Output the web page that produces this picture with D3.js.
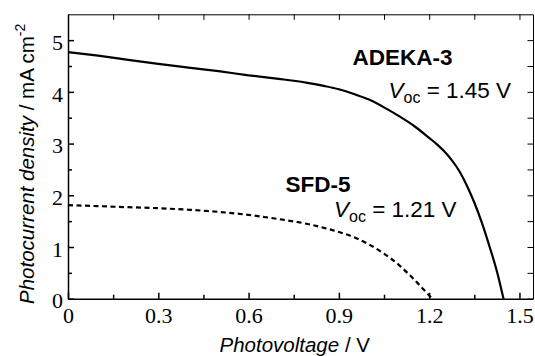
<!DOCTYPE html>
<html><head><meta charset="utf-8">
<script src="https://cdn.jsdelivr.net/npm/d3@7"></script>
<style>body{margin:0;background:#fff}svg{display:block}</style>
</head><body>
<svg id="c" width="535" height="356"></svg>
<script>
// Data
const adekaV = [0, 0.1, 0.2, 0.3, 0.4, 0.5, 0.6, 0.7, 0.75, 0.8, 0.85, 0.9, 0.95, 1.0, 1.05, 1.1, 1.15, 1.2, 1.225, 1.25, 1.275, 1.3, 1.325, 1.35, 1.375, 1.4, 1.425, 1.447];
const adekaJ = [4.77, 4.70, 4.62, 4.54, 4.47, 4.40, 4.32, 4.25, 4.215, 4.17, 4.115, 4.05, 3.96, 3.85, 3.70, 3.53, 3.34, 3.11, 2.99, 2.85, 2.68, 2.47, 2.19, 1.86, 1.47, 1.02, 0.53, 0];
const sfdV = [0, 0.1, 0.2, 0.3, 0.4, 0.5, 0.6, 0.7, 0.8, 0.85, 0.9, 0.95, 1.0, 1.05, 1.1, 1.15, 1.21];
const sfdJ = [1.81, 1.79, 1.77, 1.75, 1.72, 1.68, 1.62, 1.54, 1.44, 1.37, 1.29, 1.19, 1.05, 0.87, 0.65, 0.37, 0];
const xTicks = [0, 0.3, 0.6, 0.9, 1.2, 1.5];
const xTickLabels = ["0", "0.3", "0.6", "0.9", "1.2", "1.5"];
const xMinor = [0.15, 0.45, 0.75, 1.05, 1.35];
const yTicks = [0, 1, 2, 3, 4, 5];
const yTickLabels = ["0", "1", "2", "3", "4", "5"];
const yMinor = [0.5, 1.5, 2.5, 3.5, 4.5];
const seriesNames = ["ADEKA-3", "SFD-5"];
const vocLabels = ["1.45", "1.21"];

const svg = d3.select("#c");
const x = d3.scaleLinear().domain([0, 1.545]).range([68, 533]);
const y = d3.scaleLinear().domain([0, 5.5]).range([298.7, 14.3]);

const serif = "'Liberation Serif', 'Times New Roman', serif";
const sans = "'Liberation Sans', Arial, Helvetica, sans-serif";

function styleAxis(g, w) {
  g.select(".domain").attr("stroke", "#000").attr("stroke-width", w);
  g.selectAll(".tick line").attr("stroke", "#000").attr("stroke-width", w);
  g.selectAll("text").attr("font-family", serif).attr("font-size", 22).attr("fill", "#000");
}

// bottom
const gB = svg.append("g").attr("transform", `translate(0,${y(0)})`)
  .call(d3.axisBottom(x).tickValues(xTicks).tickFormat((d, i) => xTickLabels[i]).tickSizeInner(-6).tickSizeOuter(0).tickPadding(8.5));
styleAxis(gB, 1.5);
const gBm = svg.append("g").attr("transform", `translate(0,${y(0)})`)
  .call(d3.axisBottom(x).tickValues(xMinor).tickFormat("").tickSizeInner(-4).tickSizeOuter(0));
styleAxis(gBm, 1.5); gBm.select(".domain").remove();

// top
const gT = svg.append("g").attr("transform", `translate(0,${y(5.5)})`)
  .call(d3.axisTop(x).tickValues(xTicks.concat(xMinor)).tickFormat("").tickSizeInner(-5.5).tickSizeOuter(0));
styleAxis(gT, 1);

// left
const gL = svg.append("g").attr("transform", `translate(${x(0)},0)`)
  .call(d3.axisLeft(y).tickValues(yTicks).tickFormat((d, i) => yTickLabels[i]).tickSizeInner(-6).tickSizeOuter(0).tickPadding(5));
styleAxis(gL, 1.5);
gL.selectAll("text").attr("dy", "0.42em");
const gLm = svg.append("g").attr("transform", `translate(${x(0)},0)`)
  .call(d3.axisLeft(y).tickValues(yMinor).tickFormat("").tickSizeInner(-4).tickSizeOuter(0));
styleAxis(gLm, 1.5); gLm.select(".domain").remove();

// right
const gR = svg.append("g").attr("transform", `translate(${x(1.545)},0)`)
  .call(d3.axisRight(y).tickValues(yTicks.concat(yMinor)).tickFormat("").tickSizeInner(-5.5).tickSizeOuter(0));
styleAxis(gR, 1);

// curves
const line = d3.line().x(d => x(d[0])).y(d => y(d[1])).curve(d3.curveMonotoneX);
svg.append("path").datum(adekaV.map((v, i) => [v, adekaJ[i]]))
  .attr("d", line).attr("fill", "none").attr("stroke", "#000").attr("stroke-width", 2.2);
svg.append("path").datum(sfdV.map((v, i) => [v, sfdJ[i]]))
  .attr("d", line).attr("fill", "none").attr("stroke", "#000").attr("stroke-width", 2.2)
  .attr("stroke-dasharray", "5,3.5");

// annotations
function vocText(px, py, val) {
  const t = svg.append("text").attr("x", px).attr("y", py)
    .attr("font-family", sans).attr("font-size", 22.5).attr("fill", "#000");
  t.append("tspan").attr("font-style", "italic").text("V");
  t.append("tspan").attr("font-size", 16).attr("dy", 5).text("oc");
  t.append("tspan").attr("dy", -5).text(" = " + val + " V");
}
svg.append("text").attr("x", 352.5).attr("y", 65).attr("font-family", sans)
  .attr("font-weight", "bold").attr("font-size", 22.5).text(seriesNames[0]);
vocText(388.5, 97.8, vocLabels[0]);
svg.append("text").attr("x", 285.5).attr("y", 192.3).attr("font-family", sans)
  .attr("font-weight", "bold").attr("font-size", 22.5).text(seriesNames[1]);
vocText(334, 217.3, vocLabels[1]);

// axis titles
const xt = svg.append("text").attr("x", 219.5).attr("y", 351.5)
  .attr("font-family", sans).attr("font-size", 20.5).attr("fill", "#000");
xt.append("tspan").attr("font-style", "italic").text("Photovoltage");
xt.append("tspan").text(" / V");

const yt = svg.append("text").attr("transform", "translate(33.5,304) rotate(-90)")
  .attr("font-family", sans).attr("font-size", 20.5).attr("fill", "#000");
yt.append("tspan").attr("font-style", "italic").text("Photocurrent density");
yt.append("tspan").text(" / mA cm");
yt.append("tspan").attr("font-size", 14).attr("dy", -9).text("-2");
</script>
</body></html>
